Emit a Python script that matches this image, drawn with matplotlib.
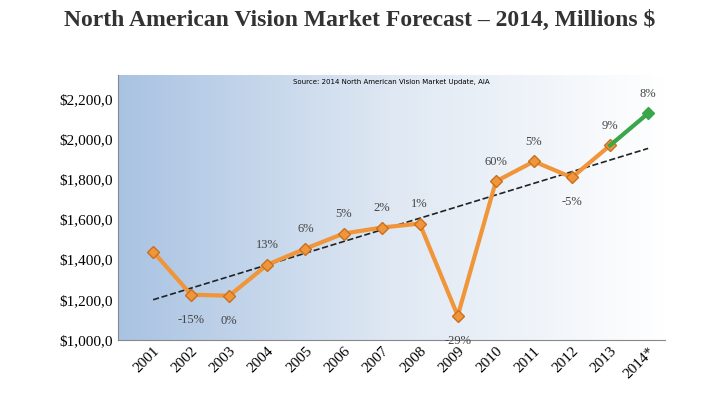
import numpy as np
import matplotlib.pyplot as plt
from matplotlib.colors import LinearSegmentedColormap

years = ["2001", "2002", "2003", "2004", "2005", "2006", "2007",
         "2008", "2009", "2010", "2011", "2012", "2013", "2014*"]
sales = [1440, 1225, 1220, 1375, 1455, 1530, 1560, 1580, 1120, 1790, 1890, 1810, 1970, 2130]
growth = ["", "-15%", "0%", "13%", "6%", "5%", "2%", "1%", "-29%", "60%", "5%", "-5%", "9%", "8%"]
label_below = [False, True, True, False, False, False, False, False, True, False, False, True, False, False]
trend_ends = [1200, 1955]  # dashed trend line at 2001 and 2014
yticks = [1000, 1200, 1400, 1600, 1800, 2000, 2200]

fig = plt.figure(figsize=(7.2, 4.18), dpi=100)
ax = fig.add_axes([0.164, 0.187, 0.76, 0.633])
x = np.arange(len(years))

# blue-to-white gradient background
cmap = LinearSegmentedColormap.from_list("bg", ["#a9c3e2", "#dfe8f3", "#ffffff"])
ax.imshow(np.linspace(0, 1, 256).reshape(1, -1), cmap=cmap, aspect="auto",
          extent=[-0.92, 13.45, 1000, 2320], zorder=0)
ax.set_xlim(-0.92, 13.45)
ax.set_ylim(1000, 2320)

ax.plot([x[0], x[-1]], trend_ends, ls="--", color="#222222", lw=1.2, zorder=2)

ax.plot(x[:-1], sales[:-1], color="#f0953a", lw=3, marker="D", ms=6,
        mfc="#f0953a", mec="#c8701f", zorder=3)
ax.plot(x[-2:], sales[-2:], color="#3aa64a", lw=3, zorder=3)
ax.plot(x[-1], sales[-1], marker="D", ms=6, color="#3aa64a", zorder=4)

for i, g in enumerate(growth):
    if not g:
        continue
    dy = -18 if label_below[i] else 14
    ax.annotate(g, (x[i], sales[i]), xytext=(0, dy), textcoords="offset points",
                ha="center", va="center", fontsize=9, family="Liberation Serif",
                color="#444444")

ax.set_yticks(yticks)
ax.set_yticklabels(["${:,.0f},0".format(v) for v in yticks],
                   family="Liberation Serif", fontsize=11)
ax.set_xticks(x)
ax.set_xticklabels(years, rotation=45, ha="right", rotation_mode="anchor",
                   family="Liberation Serif", fontsize=11)
ax.tick_params(length=0)
for s in ["top", "right"]:
    ax.spines[s].set_visible(False)
ax.spines["left"].set_color("#888888")
ax.spines["bottom"].set_color("#888888")

ax.text(0.5, 0.985, "Source: 2014 North American Vision Market Update, AIA",
        transform=ax.transAxes, ha="center", va="top", fontsize=5)
fig.text(0.5, 0.95, "North American Vision Market Forecast \u2013 2014, Millions $",
         ha="center", va="center", fontsize=17, fontweight="bold",
         family="Liberation Serif", color="#333333")

fig.savefig("out.png", dpi=100)
